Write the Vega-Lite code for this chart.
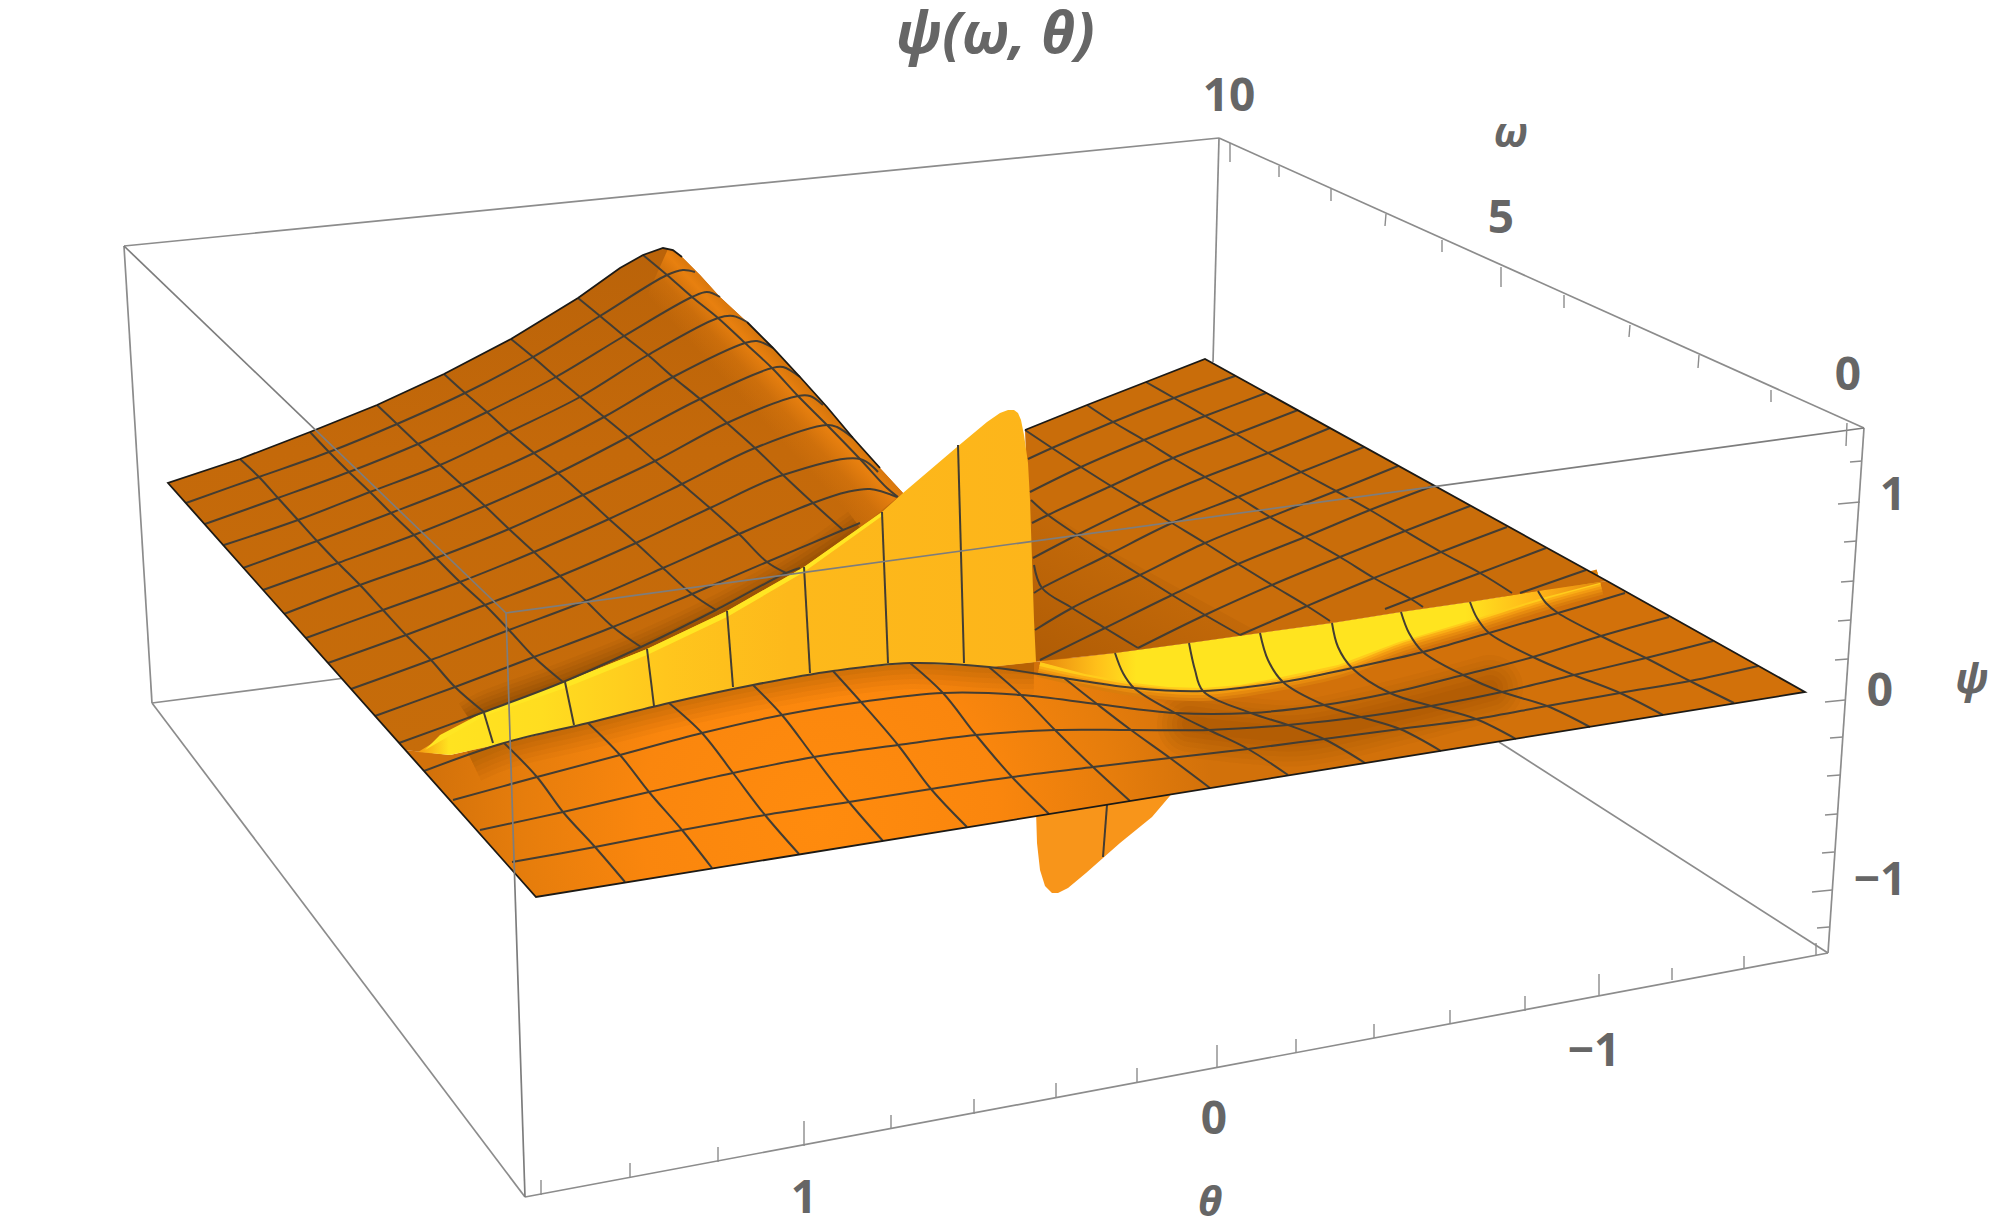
{"$schema":"https://vega.github.io/schema/vega-lite/v6.json","width":2016,"height":1231,"padding":0,"autosize":{"type":"fit","contains":"padding"},"background":"white","config":{"view":{"stroke":null}},
"datasets":{
"boxBack":[{"x":124,"y":246,"x2":1219,"y2":138},{"x":124,"y":246,"x2":152,"y2":703},{"x":1219,"y":138,"x2":1213,"y2":362},{"x":1219,"y":138,"x2":1864,"y2":428},{"x":152,"y":703,"x2":525,"y2":1197},{"x":525,"y":1197,"x2":1828,"y2":953},{"x":1864,"y":428,"x2":1828,"y2":953},{"x":1828,"y":953,"x2":1499,"y2":742},{"x":152,"y":703,"x2":345,"y2":678}],
"boxFront":[{"x":124,"y":246,"x2":506,"y2":613},{"x":1864,"y":428,"x2":506,"y2":613},{"x":506,"y":613,"x2":525,"y2":1197}],
"ticks":[{"x":541,"y":1180,"x2":541,"y2":1195},{"x":630,"y":1163,"x2":630,"y2":1178},{"x":718,"y":1147,"x2":718,"y2":1162},{"x":804,"y":1121,"x2":804,"y2":1146},{"x":891,"y":1115,"x2":891,"y2":1129},{"x":974,"y":1099,"x2":974,"y2":1114},{"x":1056,"y":1083,"x2":1056,"y2":1098},{"x":1137,"y":1068,"x2":1137,"y2":1083},{"x":1217,"y":1045,"x2":1217,"y2":1068},{"x":1296,"y":1039,"x2":1296,"y2":1053},{"x":1374,"y":1024,"x2":1374,"y2":1038},{"x":1450,"y":1010,"x2":1450,"y2":1024},{"x":1525,"y":996,"x2":1525,"y2":1011},{"x":1599,"y":974,"x2":1599,"y2":995},{"x":1672,"y":968,"x2":1672,"y2":980},{"x":1744,"y":956,"x2":1744,"y2":968},{"x":1816,"y":943,"x2":1816,"y2":955},
{"x":1230,"y":143,"x2":1230,"y2":162},{"x":1279,"y":166,"x2":1279,"y2":177},{"x":1331,"y":189,"x2":1331,"y2":201},{"x":1386,"y":214,"x2":1385,"y2":226},{"x":1442,"y":240,"x2":1442,"y2":252},{"x":1501,"y":267,"x2":1501,"y2":287},{"x":1564,"y":295,"x2":1564,"y2":308},{"x":1630,"y":325,"x2":1629,"y2":337},{"x":1699,"y":355,"x2":1698,"y2":368},{"x":1771,"y":390,"x2":1771,"y2":402},{"x":1847,"y":423,"x2":1846,"y2":446},
{"x":1862,"y":461,"x2":1850,"y2":462},{"x":1860,"y":502,"x2":1838,"y2":504},{"x":1857,"y":541,"x2":1844,"y2":542},{"x":1854,"y":581,"x2":1841,"y2":582},{"x":1851,"y":620,"x2":1838,"y2":621},{"x":1848,"y":659,"x2":1835,"y2":660},{"x":1845,"y":700,"x2":1825,"y2":702},{"x":1843,"y":737,"x2":1830,"y2":738},{"x":1840,"y":775,"x2":1827,"y2":776},{"x":1837,"y":814,"x2":1825,"y2":815},{"x":1834,"y":852,"x2":1822,"y2":853},{"x":1832,"y":890,"x2":1812,"y2":892},{"x":1829,"y":927,"x2":1817,"y2":928}],
"nums":[{"x":1229,"y":97,"t":"10"},{"x":1501,"y":219,"t":"5"},{"x":1848,"y":376,"t":"0"},{"x":1893,"y":496,"t":"1"},{"x":1880,"y":692,"t":"0"},{"x":1880,"y":881,"t":"−1"},{"x":804,"y":1199,"t":"1"},{"x":1214,"y":1120,"t":"0"},{"x":1594,"y":1052,"t":"−1"}],
"greek":[{"x":1511,"y":134,"t":"ω"},{"x":1972,"y":680,"t":"ψ"},{"x":1210,"y":1203,"t":"θ"}],
"title":[{"x":995,"y":36,"t":"ψ(ω, θ)"}],
"poly":[
{"g":"Bf","i":0,"x":1036,"y":810},{"g":"Bf","i":1,"x":1037,"y":843},{"g":"Bf","i":2,"x":1040,"y":870},{"g":"Bf","i":3,"x":1045,"y":886},{"g":"Bf","i":4,"x":1052,"y":893},{"g":"Bf","i":5,"x":1058,"y":893},{"g":"Bf","i":6,"x":1068,"y":888},{"g":"Bf","i":7,"x":1086,"y":873},{"g":"Bf","i":8,"x":1120,"y":843},{"g":"Bf","i":9,"x":1152,"y":817},{"g":"Bf","i":10,"x":1175,"y":790},
{"g":"F","i":0,"x":536,"y":897},{"g":"F","i":1,"x":1805,"y":692},{"g":"F","i":2,"x":1607,"y":581},{"g":"F","i":3,"x":1538,"y":591},{"g":"F","i":4,"x":1470,"y":602},{"g":"F","i":5,"x":1401,"y":612},{"g":"F","i":6,"x":1332,"y":623},{"g":"F","i":7,"x":1260,"y":633},{"g":"F","i":8,"x":1189,"y":643},{"g":"F","i":9,"x":1115,"y":653},{"g":"F","i":10,"x":1034,"y":662},{"g":"F","i":11,"x":989,"y":667},{"g":"F","i":12,"x":910,"y":663},{"g":"F","i":13,"x":833,"y":671},{"g":"F","i":14,"x":753,"y":685},{"g":"F","i":15,"x":669,"y":703},{"g":"F","i":16,"x":588,"y":723},{"g":"F","i":17,"x":504,"y":743},{"g":"F","i":18,"x":450,"y":755},{"g":"F","i":19,"x":405,"y":750},
{"g":"Fl","i":0,"x":536,"y":897},{"g":"Fl","i":1,"x":1210,"y":788},{"g":"Fl","i":2,"x":1215,"y":725},{"g":"Fl","i":3,"x":1134,"y":690},{"g":"Fl","i":4,"x":1064,"y":680},{"g":"Fl","i":5,"x":989,"y":667},{"g":"Fl","i":6,"x":910,"y":663},{"g":"Fl","i":7,"x":833,"y":671},{"g":"Fl","i":8,"x":753,"y":685},{"g":"Fl","i":9,"x":669,"y":703},{"g":"Fl","i":10,"x":588,"y":723},{"g":"Fl","i":11,"x":504,"y":743},{"g":"Fl","i":12,"x":424,"y":771},
{"g":"B4","i":0,"x":1040,"y":662},{"g":"B4","i":1,"x":1115,"y":653},{"g":"B4","i":2,"x":1189,"y":643},{"g":"B4","i":3,"x":1260,"y":633},{"g":"B4","i":4,"x":1332,"y":623},{"g":"B4","i":5,"x":1401,"y":612},{"g":"B4","i":6,"x":1470,"y":602},{"g":"B4","i":7,"x":1538,"y":591},{"g":"B4","i":8,"x":1607,"y":581},{"g":"B4","i":9,"x":1542,"y":598},{"g":"B4","i":10,"x":1472,"y":620},{"g":"B4","i":11,"x":1399,"y":642},{"g":"B4","i":12,"x":1338,"y":665},{"g":"B4","i":13,"x":1277,"y":678},{"g":"B4","i":14,"x":1240,"y":685},{"g":"B4","i":15,"x":1203,"y":688},{"g":"B4","i":16,"x":1168,"y":687},{"g":"B4","i":17,"x":1134,"y":683},{"g":"B4","i":18,"x":1085,"y":674},
{"g":"Rb","i":0,"x":1205,"y":359},{"g":"Rb","i":1,"x":1607,"y":581},{"g":"Rb","i":2,"x":1538,"y":591},{"g":"Rb","i":3,"x":1470,"y":602},{"g":"Rb","i":4,"x":1401,"y":612},{"g":"Rb","i":5,"x":1332,"y":623},{"g":"Rb","i":6,"x":1260,"y":633},{"g":"Rb","i":7,"x":1189,"y":643},{"g":"Rb","i":8,"x":1115,"y":653},{"g":"Rb","i":9,"x":1034,"y":662},{"g":"Rb","i":10,"x":1025,"y":430},{"g":"Rb","i":11,"x":1087,"y":405},{"g":"Rb","i":12,"x":1146,"y":382},
{"g":"Rd","i":0,"x":1030,"y":662},{"g":"Rd","i":1,"x":1030,"y":500},{"g":"Rd","i":2,"x":1100,"y":545},{"g":"Rd","i":3,"x":1260,"y":633},{"g":"Rd","i":4,"x":1189,"y":643},{"g":"Rd","i":5,"x":1115,"y":653},
{"g":"Lb","i":0,"x":168,"y":483},{"g":"Lb","i":1,"x":240,"y":459},{"g":"Lb","i":2,"x":310,"y":432},{"g":"Lb","i":3,"x":377,"y":405},{"g":"Lb","i":4,"x":444,"y":374},{"g":"Lb","i":5,"x":511,"y":339},{"g":"Lb","i":6,"x":578,"y":298},{"g":"Lb","i":7,"x":620,"y":268},{"g":"Lb","i":8,"x":643,"y":255},{"g":"Lb","i":9,"x":663,"y":248},{"g":"Lb","i":10,"x":673,"y":250},{"g":"Lb","i":11,"x":682,"y":257},{"g":"Lb","i":12,"x":700,"y":275},{"g":"Lb","i":13,"x":720,"y":297},{"g":"Lb","i":14,"x":747,"y":322},{"g":"Lb","i":15,"x":773,"y":348},{"g":"Lb","i":16,"x":800,"y":377},{"g":"Lb","i":17,"x":827,"y":407},{"g":"Lb","i":18,"x":853,"y":438},{"g":"Lb","i":19,"x":880,"y":468},{"g":"Lb","i":20,"x":903,"y":493},{"g":"Lb","i":21,"x":960,"y":600},{"g":"Lb","i":22,"x":804,"y":600},{"g":"Lb","i":23,"x":727,"y":640},{"g":"Lb","i":24,"x":647,"y":670},{"g":"Lb","i":25,"x":565,"y":700},{"g":"Lb","i":26,"x":484,"y":730},{"g":"Lb","i":27,"x":430,"y":753},{"g":"Lb","i":28,"x":405,"y":750},
{"g":"Lr","i":0,"x":668,"y":249},{"g":"Lr","i":1,"x":682,"y":257},{"g":"Lr","i":2,"x":700,"y":275},{"g":"Lr","i":3,"x":720,"y":297},{"g":"Lr","i":4,"x":747,"y":322},{"g":"Lr","i":5,"x":773,"y":348},{"g":"Lr","i":6,"x":800,"y":377},{"g":"Lr","i":7,"x":827,"y":407},{"g":"Lr","i":8,"x":853,"y":438},{"g":"Lr","i":9,"x":880,"y":468},{"g":"Lr","i":10,"x":903,"y":493},{"g":"Lr","i":11,"x":860,"y":528},{"g":"Lr","i":12,"x":790,"y":470},{"g":"Lr","i":13,"x":720,"y":400},{"g":"Lr","i":14,"x":660,"y":330},{"g":"Lr","i":15,"x":645,"y":300},
{"g":"W","i":0,"x":418,"y":752},{"g":"W","i":1,"x":484,"y":712},{"g":"W","i":2,"x":565,"y":682},{"g":"W","i":3,"x":647,"y":649},{"g":"W","i":4,"x":727,"y":611},{"g":"W","i":5,"x":804,"y":567},{"g":"W","i":6,"x":882,"y":512},{"g":"W","i":7,"x":903,"y":493},{"g":"W","i":8,"x":957,"y":447},{"g":"W","i":9,"x":987,"y":422},{"g":"W","i":10,"x":1000,"y":413},{"g":"W","i":11,"x":1008,"y":410},{"g":"W","i":12,"x":1014,"y":410},{"g":"W","i":13,"x":1018,"y":413},{"g":"W","i":14,"x":1021,"y":420},{"g":"W","i":15,"x":1024,"y":435},{"g":"W","i":16,"x":1028,"y":463},{"g":"W","i":17,"x":1030,"y":500},{"g":"W","i":18,"x":1032,"y":560},{"g":"W","i":19,"x":1034,"y":620},{"g":"W","i":20,"x":1036,"y":662},{"g":"W","i":21,"x":989,"y":667},{"g":"W","i":22,"x":910,"y":663},{"g":"W","i":23,"x":833,"y":671},{"g":"W","i":24,"x":753,"y":685},{"g":"W","i":25,"x":669,"y":703},{"g":"W","i":26,"x":588,"y":723},{"g":"W","i":27,"x":504,"y":743},{"g":"W","i":28,"x":450,"y":755},
{"g":"W4","i":0,"x":425,"y":750},{"g":"W4","i":1,"x":484,"y":716},{"g":"W4","i":2,"x":565,"y":688},{"g":"W4","i":3,"x":647,"y":655},{"g":"W4","i":4,"x":727,"y":617},{"g":"W4","i":5,"x":804,"y":572},{"g":"W4","i":6,"x":882,"y":516},{"g":"W4","i":7,"x":882,"y":512},{"g":"W4","i":8,"x":804,"y":567},{"g":"W4","i":9,"x":727,"y":611},{"g":"W4","i":10,"x":647,"y":649},{"g":"W4","i":11,"x":565,"y":682},{"g":"W4","i":12,"x":484,"y":712},{"g":"W4","i":13,"x":440,"y":735}
],
"trough":[{"i":0,"x":1190,"y":724},{"i":1,"x":1240,"y":730},{"i":2,"x":1300,"y":733},{"i":3,"x":1400,"y":712},{"i":4,"x":1490,"y":688}],
"foldPath":[{"i":0,"x":470,"y":757},{"i":1,"x":504,"y":743},{"i":2,"x":588,"y":723},{"i":3,"x":669,"y":703},{"i":4,"x":753,"y":685},{"i":5,"x":833,"y":671},{"i":6,"x":910,"y":663},{"i":7,"x":989,"y":667},{"i":8,"x":1034,"y":668}],
"bandPath":[{"i":0,"x":1040,"y":664},{"i":1,"x":1085,"y":674},{"i":2,"x":1134,"y":683},{"i":3,"x":1203,"y":688},{"i":4,"x":1277,"y":678},{"i":5,"x":1338,"y":665},{"i":6,"x":1399,"y":642},{"i":7,"x":1472,"y":620},{"i":8,"x":1542,"y":598},{"i":9,"x":1600,"y":582}],
"wallTop":[{"i":0,"x":470,"y":720},{"i":1,"x":484,"y":712},{"i":2,"x":565,"y":682},{"i":3,"x":647,"y":649},{"i":4,"x":727,"y":611},{"i":5,"x":804,"y":567},{"i":6,"x":860,"y":528}],
"mesh":[
{"g":"a15","i":0,"x":186,"y":503},{"g":"a15","i":1,"x":259,"y":477},{"g":"a15","i":2,"x":329,"y":452},{"g":"a15","i":3,"x":397,"y":424},{"g":"a15","i":4,"x":465,"y":393},{"g":"a15","i":5,"x":533,"y":357},{"g":"a15","i":6,"x":600,"y":316},{"g":"a15","i":7,"x":667,"y":275},{"g":"a15","i":8,"x":683,"y":270},{"g":"a15","i":9,"x":695,"y":272},
{"g":"a14","i":0,"x":205,"y":524},{"g":"a14","i":1,"x":278,"y":498},{"g":"a14","i":2,"x":349,"y":472},{"g":"a14","i":3,"x":418,"y":444},{"g":"a14","i":4,"x":487,"y":412},{"g":"a14","i":5,"x":556,"y":377},{"g":"a14","i":6,"x":624,"y":336},{"g":"a14","i":7,"x":692,"y":297},{"g":"a14","i":8,"x":707,"y":292},{"g":"a14","i":9,"x":720,"y":297},
{"g":"a13","i":0,"x":224,"y":545},{"g":"a13","i":1,"x":298,"y":520},{"g":"a13","i":2,"x":370,"y":492},{"g":"a13","i":3,"x":440,"y":465},{"g":"a13","i":4,"x":509,"y":432},{"g":"a13","i":5,"x":580,"y":397},{"g":"a13","i":6,"x":648,"y":355},{"g":"a13","i":7,"x":718,"y":318},{"g":"a13","i":8,"x":733,"y":316},{"g":"a13","i":9,"x":747,"y":322},
{"g":"a12","i":0,"x":243,"y":568},{"g":"a12","i":1,"x":317,"y":541},{"g":"a12","i":2,"x":391,"y":513},{"g":"a12","i":3,"x":462,"y":485},{"g":"a12","i":4,"x":534,"y":453},{"g":"a12","i":5,"x":604,"y":417},{"g":"a12","i":6,"x":673,"y":377},{"g":"a12","i":7,"x":745,"y":343},{"g":"a12","i":8,"x":757,"y":341},{"g":"a12","i":9,"x":773,"y":348},
{"g":"a11","i":0,"x":263,"y":590},{"g":"a11","i":1,"x":338,"y":563},{"g":"a11","i":2,"x":414,"y":535},{"g":"a11","i":3,"x":485,"y":506},{"g":"a11","i":4,"x":558,"y":473},{"g":"a11","i":5,"x":628,"y":437},{"g":"a11","i":6,"x":700,"y":399},{"g":"a11","i":7,"x":772,"y":368},{"g":"a11","i":8,"x":783,"y":367},{"g":"a11","i":9,"x":800,"y":377},
{"g":"a10","i":0,"x":284,"y":614},{"g":"a10","i":1,"x":360,"y":585},{"g":"a10","i":2,"x":436,"y":558},{"g":"a10","i":3,"x":509,"y":529},{"g":"a10","i":4,"x":583,"y":495},{"g":"a10","i":5,"x":655,"y":461},{"g":"a10","i":6,"x":727,"y":423},{"g":"a10","i":7,"x":798,"y":396},{"g":"a10","i":8,"x":810,"y":396},{"g":"a10","i":9,"x":823,"y":405},
{"g":"a9","i":0,"x":306,"y":638},{"g":"a9","i":1,"x":383,"y":610},{"g":"a9","i":2,"x":460,"y":582},{"g":"a9","i":3,"x":534,"y":552},{"g":"a9","i":4,"x":609,"y":519},{"g":"a9","i":5,"x":682,"y":484},{"g":"a9","i":6,"x":755,"y":448},{"g":"a9","i":7,"x":827,"y":425},{"g":"a9","i":8,"x":837,"y":427},{"g":"a9","i":9,"x":853,"y":438},
{"g":"a8","i":0,"x":328,"y":663},{"g":"a8","i":1,"x":406,"y":635},{"g":"a8","i":2,"x":485,"y":605},{"g":"a8","i":3,"x":560,"y":576},{"g":"a8","i":4,"x":636,"y":543},{"g":"a8","i":5,"x":710,"y":508},{"g":"a8","i":6,"x":783,"y":475},{"g":"a8","i":7,"x":860,"y":459},{"g":"a8","i":8,"x":878,"y":472},
{"g":"a7","i":0,"x":351,"y":689},{"g":"a7","i":1,"x":431,"y":660},{"g":"a7","i":2,"x":509,"y":630},{"g":"a7","i":3,"x":586,"y":601},{"g":"a7","i":4,"x":663,"y":568},{"g":"a7","i":5,"x":739,"y":534},{"g":"a7","i":6,"x":813,"y":503},{"g":"a7","i":7,"x":847,"y":492},{"g":"a7","i":8,"x":870,"y":489},{"g":"a7","i":9,"x":897,"y":497},
{"g":"a6","i":0,"x":375,"y":716},{"g":"a6","i":1,"x":455,"y":687},{"g":"a6","i":2,"x":534,"y":657},{"g":"a6","i":3,"x":613,"y":627},{"g":"a6","i":4,"x":692,"y":594},{"g":"a6","i":5,"x":767,"y":562},{"g":"a6","i":6,"x":843,"y":530},{"g":"a6","i":7,"x":860,"y":523},
{"g":"a5","i":0,"x":399,"y":743},{"g":"a5","i":1,"x":484,"y":712},{"g":"a5","i":2,"x":563,"y":682},{"g":"a5","i":3,"x":641,"y":647},{"g":"a5","i":4,"x":716,"y":610},{"g":"a5","i":5,"x":786,"y":573},{"g":"a5","i":6,"x":800,"y":568},
{"g":"k1","i":0,"x":240,"y":459},{"g":"k1","i":1,"x":259,"y":477},{"g":"k1","i":2,"x":278,"y":498},{"g":"k1","i":3,"x":298,"y":520},{"g":"k1","i":4,"x":317,"y":541},{"g":"k1","i":5,"x":338,"y":563},{"g":"k1","i":6,"x":360,"y":585},{"g":"k1","i":7,"x":383,"y":610},{"g":"k1","i":8,"x":406,"y":635},{"g":"k1","i":9,"x":431,"y":660},{"g":"k1","i":10,"x":455,"y":687},{"g":"k1","i":11,"x":484,"y":712},
{"g":"k2","i":0,"x":310,"y":432},{"g":"k2","i":1,"x":329,"y":452},{"g":"k2","i":2,"x":349,"y":472},{"g":"k2","i":3,"x":370,"y":492},{"g":"k2","i":4,"x":391,"y":513},{"g":"k2","i":5,"x":414,"y":535},{"g":"k2","i":6,"x":436,"y":558},{"g":"k2","i":7,"x":460,"y":582},{"g":"k2","i":8,"x":485,"y":605},{"g":"k2","i":9,"x":509,"y":630},{"g":"k2","i":10,"x":534,"y":657},{"g":"k2","i":11,"x":563,"y":682},
{"g":"k3","i":0,"x":377,"y":405},{"g":"k3","i":1,"x":397,"y":424},{"g":"k3","i":2,"x":418,"y":444},{"g":"k3","i":3,"x":440,"y":465},{"g":"k3","i":4,"x":462,"y":485},{"g":"k3","i":5,"x":485,"y":506},{"g":"k3","i":6,"x":509,"y":529},{"g":"k3","i":7,"x":534,"y":552},{"g":"k3","i":8,"x":560,"y":576},{"g":"k3","i":9,"x":586,"y":601},{"g":"k3","i":10,"x":613,"y":627},{"g":"k3","i":11,"x":641,"y":647},
{"g":"k4","i":0,"x":444,"y":374},{"g":"k4","i":1,"x":465,"y":393},{"g":"k4","i":2,"x":487,"y":412},{"g":"k4","i":3,"x":509,"y":432},{"g":"k4","i":4,"x":534,"y":453},{"g":"k4","i":5,"x":558,"y":473},{"g":"k4","i":6,"x":583,"y":495},{"g":"k4","i":7,"x":609,"y":519},{"g":"k4","i":8,"x":636,"y":543},{"g":"k4","i":9,"x":663,"y":568},{"g":"k4","i":10,"x":692,"y":594},{"g":"k4","i":11,"x":716,"y":610},
{"g":"k5","i":0,"x":511,"y":339},{"g":"k5","i":1,"x":533,"y":357},{"g":"k5","i":2,"x":556,"y":377},{"g":"k5","i":3,"x":580,"y":397},{"g":"k5","i":4,"x":604,"y":417},{"g":"k5","i":5,"x":628,"y":437},{"g":"k5","i":6,"x":655,"y":461},{"g":"k5","i":7,"x":682,"y":484},{"g":"k5","i":8,"x":710,"y":508},{"g":"k5","i":9,"x":739,"y":534},{"g":"k5","i":10,"x":767,"y":562},{"g":"k5","i":11,"x":786,"y":573},
{"g":"k6","i":0,"x":578,"y":298},{"g":"k6","i":1,"x":600,"y":316},{"g":"k6","i":2,"x":624,"y":336},{"g":"k6","i":3,"x":648,"y":355},{"g":"k6","i":4,"x":673,"y":377},{"g":"k6","i":5,"x":700,"y":399},{"g":"k6","i":6,"x":727,"y":423},{"g":"k6","i":7,"x":755,"y":448},{"g":"k6","i":8,"x":783,"y":475},{"g":"k6","i":9,"x":813,"y":503},{"g":"k6","i":10,"x":843,"y":530},
{"g":"k7","i":0,"x":643,"y":255},{"g":"k7","i":1,"x":667,"y":275},{"g":"k7","i":2,"x":692,"y":297},{"g":"k7","i":3,"x":718,"y":318},{"g":"k7","i":4,"x":745,"y":343},{"g":"k7","i":5,"x":772,"y":368},{"g":"k7","i":6,"x":798,"y":396},{"g":"k7","i":7,"x":827,"y":425},{"g":"k7","i":8,"x":860,"y":459},{"g":"k7","i":9,"x":887,"y":488},{"g":"k7","i":10,"x":898,"y":497},
{"g":"w1","i":0,"x":484,"y":713},{"g":"w1","i":1,"x":493,"y":743},{"g":"w2","i":0,"x":565,"y":682},{"g":"w2","i":1,"x":574,"y":725},{"g":"w3","i":0,"x":647,"y":649},{"g":"w3","i":1,"x":654,"y":706},{"g":"w4","i":0,"x":727,"y":611},{"g":"w4","i":1,"x":733,"y":687},{"g":"w5","i":0,"x":804,"y":567},{"g":"w5","i":1,"x":810,"y":673},{"g":"w6","i":0,"x":882,"y":512},{"g":"w6","i":1,"x":888,"y":663},{"g":"w7","i":0,"x":958,"y":445},{"g":"w7","i":1,"x":964,"y":663},{"g":"w8","i":0,"x":1107,"y":805},{"g":"w8","i":1,"x":1103,"y":857},
{"g":"v1","i":0,"x":512,"y":862},{"g":"v1","i":1,"x":595,"y":847},{"g":"v1","i":2,"x":682,"y":830},{"g":"v1","i":3,"x":765,"y":815},{"g":"v1","i":4,"x":849,"y":802},{"g":"v1","i":5,"x":931,"y":789},{"g":"v1","i":6,"x":1012,"y":777},{"g":"v1","i":7,"x":1093,"y":767},{"g":"v1","i":8,"x":1170,"y":758},{"g":"v1","i":9,"x":1248,"y":749},{"g":"v1","i":10,"x":1324,"y":739},{"g":"v1","i":11,"x":1400,"y":729},{"g":"v1","i":12,"x":1476,"y":719},{"g":"v1","i":13,"x":1547,"y":706},{"g":"v1","i":14,"x":1620,"y":693},{"g":"v1","i":15,"x":1690,"y":681},{"g":"v1","i":16,"x":1758,"y":666},
{"g":"v2","i":0,"x":480,"y":830},{"g":"v2","i":1,"x":563,"y":812},{"g":"v2","i":2,"x":649,"y":792},{"g":"v2","i":3,"x":733,"y":773},{"g":"v2","i":4,"x":814,"y":757},{"g":"v2","i":5,"x":898,"y":745},{"g":"v2","i":6,"x":976,"y":735},{"g":"v2","i":7,"x":1055,"y":730},{"g":"v2","i":8,"x":1131,"y":730},{"g":"v2","i":9,"x":1209,"y":730},{"g":"v2","i":10,"x":1288,"y":725},{"g":"v2","i":11,"x":1361,"y":717},{"g":"v2","i":12,"x":1431,"y":706},{"g":"v2","i":13,"x":1502,"y":692},{"g":"v2","i":14,"x":1574,"y":675},{"g":"v2","i":15,"x":1646,"y":658},{"g":"v2","i":16,"x":1713,"y":641},
{"g":"v3","i":0,"x":453,"y":800},{"g":"v3","i":1,"x":537,"y":777},{"g":"v3","i":2,"x":620,"y":755},{"g":"v3","i":3,"x":702,"y":733},{"g":"v3","i":4,"x":782,"y":715},{"g":"v3","i":5,"x":861,"y":702},{"g":"v3","i":6,"x":943,"y":693},{"g":"v3","i":7,"x":1021,"y":695},{"g":"v3","i":8,"x":1097,"y":704},{"g":"v3","i":9,"x":1175,"y":713},{"g":"v3","i":10,"x":1251,"y":713},{"g":"v3","i":11,"x":1324,"y":705},{"g":"v3","i":12,"x":1390,"y":693},{"g":"v3","i":13,"x":1463,"y":675},{"g":"v3","i":14,"x":1533,"y":657},{"g":"v3","i":15,"x":1601,"y":636},{"g":"v3","i":16,"x":1669,"y":617},
{"g":"v4","i":0,"x":424,"y":771},{"g":"v4","i":1,"x":504,"y":743},{"g":"v4","i":2,"x":588,"y":723},{"g":"v4","i":3,"x":669,"y":703},{"g":"v4","i":4,"x":753,"y":685},{"g":"v4","i":5,"x":833,"y":671},{"g":"v4","i":6,"x":910,"y":663},{"g":"v4","i":7,"x":989,"y":667},{"g":"v4","i":8,"x":1064,"y":678},{"g":"v4","i":9,"x":1134,"y":688},{"g":"v4","i":10,"x":1203,"y":691},{"g":"v4","i":11,"x":1283,"y":682},{"g":"v4","i":12,"x":1352,"y":668},{"g":"v4","i":13,"x":1423,"y":652},{"g":"v4","i":14,"x":1489,"y":633},{"g":"v4","i":15,"x":1558,"y":613},{"g":"v4","i":16,"x":1625,"y":593},
{"g":"f1","i":0,"x":625,"y":882},{"g":"f1","i":1,"x":595,"y":847},{"g":"f1","i":2,"x":563,"y":812},{"g":"f1","i":3,"x":537,"y":777},{"g":"f1","i":4,"x":504,"y":743},
{"g":"f2","i":0,"x":712,"y":868},{"g":"f2","i":1,"x":682,"y":830},{"g":"f2","i":2,"x":649,"y":792},{"g":"f2","i":3,"x":620,"y":755},{"g":"f2","i":4,"x":588,"y":723},
{"g":"f3","i":0,"x":799,"y":854},{"g":"f3","i":1,"x":765,"y":815},{"g":"f3","i":2,"x":733,"y":773},{"g":"f3","i":3,"x":702,"y":733},{"g":"f3","i":4,"x":669,"y":703},
{"g":"f4","i":0,"x":883,"y":841},{"g":"f4","i":1,"x":849,"y":802},{"g":"f4","i":2,"x":814,"y":757},{"g":"f4","i":3,"x":782,"y":715},{"g":"f4","i":4,"x":753,"y":685},
{"g":"f5","i":0,"x":967,"y":827},{"g":"f5","i":1,"x":931,"y":789},{"g":"f5","i":2,"x":898,"y":745},{"g":"f5","i":3,"x":861,"y":702},{"g":"f5","i":4,"x":833,"y":671},
{"g":"f6","i":0,"x":1049,"y":814},{"g":"f6","i":1,"x":1012,"y":777},{"g":"f6","i":2,"x":976,"y":735},{"g":"f6","i":3,"x":943,"y":693},{"g":"f6","i":4,"x":910,"y":663},
{"g":"f7","i":0,"x":1130,"y":801},{"g":"f7","i":1,"x":1093,"y":767},{"g":"f7","i":2,"x":1055,"y":730},{"g":"f7","i":3,"x":1021,"y":695},{"g":"f7","i":4,"x":989,"y":667},
{"g":"f8","i":0,"x":1210,"y":788},{"g":"f8","i":1,"x":1170,"y":758},{"g":"f8","i":2,"x":1131,"y":730},{"g":"f8","i":3,"x":1097,"y":704},{"g":"f8","i":4,"x":1064,"y":678},
{"g":"f9","i":0,"x":1288,"y":775},{"g":"f9","i":1,"x":1248,"y":749},{"g":"f9","i":2,"x":1209,"y":730},{"g":"f9","i":3,"x":1175,"y":713},{"g":"f9","i":4,"x":1134,"y":688},{"g":"f9","i":5,"x":1123,"y":673},{"g":"f9","i":6,"x":1115,"y":653},
{"g":"f10","i":0,"x":1365,"y":763},{"g":"f10","i":1,"x":1324,"y":739},{"g":"f10","i":2,"x":1288,"y":725},{"g":"f10","i":3,"x":1251,"y":713},{"g":"f10","i":4,"x":1203,"y":691},{"g":"f10","i":5,"x":1195,"y":670},{"g":"f10","i":6,"x":1189,"y":643},
{"g":"f11","i":0,"x":1441,"y":751},{"g":"f11","i":1,"x":1400,"y":729},{"g":"f11","i":2,"x":1361,"y":717},{"g":"f11","i":3,"x":1324,"y":705},{"g":"f11","i":4,"x":1283,"y":682},{"g":"f11","i":5,"x":1268,"y":660},{"g":"f11","i":6,"x":1260,"y":633},
{"g":"f12","i":0,"x":1516,"y":739},{"g":"f12","i":1,"x":1476,"y":719},{"g":"f12","i":2,"x":1431,"y":706},{"g":"f12","i":3,"x":1390,"y":693},{"g":"f12","i":4,"x":1352,"y":668},{"g":"f12","i":5,"x":1338,"y":647},{"g":"f12","i":6,"x":1332,"y":623},
{"g":"f13","i":0,"x":1590,"y":727},{"g":"f13","i":1,"x":1547,"y":706},{"g":"f13","i":2,"x":1502,"y":692},{"g":"f13","i":3,"x":1463,"y":675},{"g":"f13","i":4,"x":1423,"y":652},{"g":"f13","i":5,"x":1409,"y":633},{"g":"f13","i":6,"x":1401,"y":612},
{"g":"f14","i":0,"x":1663,"y":715},{"g":"f14","i":1,"x":1620,"y":693},{"g":"f14","i":2,"x":1574,"y":675},{"g":"f14","i":3,"x":1533,"y":657},{"g":"f14","i":4,"x":1489,"y":633},{"g":"f14","i":5,"x":1477,"y":618},{"g":"f14","i":6,"x":1470,"y":602},
{"g":"f15","i":0,"x":1734,"y":703},{"g":"f15","i":1,"x":1690,"y":681},{"g":"f15","i":2,"x":1646,"y":658},{"g":"f15","i":3,"x":1601,"y":636},{"g":"f15","i":4,"x":1558,"y":613},{"g":"f15","i":5,"x":1546,"y":603},{"g":"f15","i":6,"x":1538,"y":591},
{"g":"r15","i":0,"x":1146,"y":382},{"g":"r15","i":1,"x":1174,"y":398},{"g":"r15","i":2,"x":1205,"y":416},{"g":"r15","i":3,"x":1236,"y":434},{"g":"r15","i":4,"x":1268,"y":453},{"g":"r15","i":5,"x":1301,"y":472},{"g":"r15","i":6,"x":1336,"y":491},{"g":"r15","i":7,"x":1370,"y":510},{"g":"r15","i":8,"x":1405,"y":531},{"g":"r15","i":9,"x":1441,"y":552},{"g":"r15","i":10,"x":1480,"y":573},{"g":"r15","i":11,"x":1512,"y":593},
{"g":"r14","i":0,"x":1087,"y":405},{"g":"r14","i":1,"x":1113,"y":422},{"g":"r14","i":2,"x":1144,"y":440},{"g":"r14","i":3,"x":1173,"y":458},{"g":"r14","i":4,"x":1205,"y":477},{"g":"r14","i":5,"x":1238,"y":497},{"g":"r14","i":6,"x":1270,"y":517},{"g":"r14","i":7,"x":1305,"y":537},{"g":"r14","i":8,"x":1340,"y":557},{"g":"r14","i":9,"x":1374,"y":578},{"g":"r14","i":10,"x":1411,"y":599},{"g":"r14","i":11,"x":1423,"y":607},
{"g":"r13","i":0,"x":1025,"y":430},{"g":"r13","i":1,"x":1052,"y":448},{"g":"r13","i":2,"x":1081,"y":467},{"g":"r13","i":3,"x":1111,"y":486},{"g":"r13","i":4,"x":1141,"y":504},{"g":"r13","i":5,"x":1172,"y":523},{"g":"r13","i":6,"x":1205,"y":543},{"g":"r13","i":7,"x":1238,"y":564},{"g":"r13","i":8,"x":1272,"y":585},{"g":"r13","i":9,"x":1307,"y":606},{"g":"r13","i":10,"x":1330,"y":621},
{"g":"r12","i":0,"x":1031,"y":500},{"g":"r12","i":1,"x":1048,"y":515},{"g":"r12","i":2,"x":1077,"y":535},{"g":"r12","i":3,"x":1108,"y":555},{"g":"r12","i":4,"x":1140,"y":575},{"g":"r12","i":5,"x":1172,"y":595},{"g":"r12","i":6,"x":1205,"y":615},{"g":"r12","i":7,"x":1240,"y":635},
{"g":"r11","i":0,"x":1034,"y":565},{"g":"r11","i":1,"x":1042,"y":588},{"g":"r11","i":2,"x":1072,"y":608},{"g":"r11","i":3,"x":1105,"y":628},{"g":"r11","i":4,"x":1138,"y":648},
{"g":"q15","i":0,"x":1235,"y":376},{"g":"q15","i":1,"x":1174,"y":398},{"g":"q15","i":2,"x":1113,"y":422},{"g":"q15","i":3,"x":1052,"y":448},{"g":"q15","i":4,"x":1028,"y":459},
{"g":"q14","i":0,"x":1266,"y":393},{"g":"q14","i":1,"x":1205,"y":416},{"g":"q14","i":2,"x":1144,"y":440},{"g":"q14","i":3,"x":1081,"y":467},{"g":"q14","i":4,"x":1030,"y":492},
{"g":"q13","i":0,"x":1298,"y":410},{"g":"q13","i":1,"x":1236,"y":434},{"g":"q13","i":2,"x":1173,"y":458},{"g":"q13","i":3,"x":1111,"y":486},{"g":"q13","i":4,"x":1048,"y":515},{"g":"q13","i":5,"x":1032,"y":523},
{"g":"q12","i":0,"x":1330,"y":428},{"g":"q12","i":1,"x":1268,"y":453},{"g":"q12","i":2,"x":1205,"y":477},{"g":"q12","i":3,"x":1141,"y":504},{"g":"q12","i":4,"x":1077,"y":535},{"g":"q12","i":5,"x":1033,"y":558},
{"g":"q11","i":0,"x":1364,"y":447},{"g":"q11","i":1,"x":1301,"y":472},{"g":"q11","i":2,"x":1238,"y":497},{"g":"q11","i":3,"x":1172,"y":523},{"g":"q11","i":4,"x":1108,"y":555},{"g":"q11","i":5,"x":1042,"y":588},{"g":"q11","i":6,"x":1034,"y":593},
{"g":"q10","i":0,"x":1398,"y":466},{"g":"q10","i":1,"x":1336,"y":491},{"g":"q10","i":2,"x":1270,"y":517},{"g":"q10","i":3,"x":1205,"y":543},{"g":"q10","i":4,"x":1140,"y":575},{"g":"q10","i":5,"x":1072,"y":608},{"g":"q10","i":6,"x":1035,"y":630},
{"g":"q9","i":0,"x":1433,"y":486},{"g":"q9","i":1,"x":1370,"y":510},{"g":"q9","i":2,"x":1305,"y":537},{"g":"q9","i":3,"x":1238,"y":564},{"g":"q9","i":4,"x":1172,"y":595},{"g":"q9","i":5,"x":1105,"y":628},{"g":"q9","i":6,"x":1040,"y":660},
{"g":"q8","i":0,"x":1470,"y":506},{"g":"q8","i":1,"x":1405,"y":531},{"g":"q8","i":2,"x":1340,"y":557},{"g":"q8","i":3,"x":1272,"y":585},{"g":"q8","i":4,"x":1205,"y":615},{"g":"q8","i":5,"x":1138,"y":648},
{"g":"q7","i":0,"x":1507,"y":527},{"g":"q7","i":1,"x":1441,"y":552},{"g":"q7","i":2,"x":1374,"y":578},{"g":"q7","i":3,"x":1307,"y":606},{"g":"q7","i":4,"x":1240,"y":635},
{"g":"q6","i":0,"x":1546,"y":548},{"g":"q6","i":1,"x":1480,"y":573},{"g":"q6","i":2,"x":1411,"y":599},{"g":"q6","i":3,"x":1385,"y":609},
{"g":"q5","i":0,"x":1586,"y":570},{"g":"q5","i":1,"x":1520,"y":593}
],
"edge":[
{"g":"e1","i":0,"x":1025,"y":430},{"g":"e1","i":1,"x":1087,"y":405},{"g":"e1","i":2,"x":1146,"y":382},{"g":"e1","i":3,"x":1205,"y":359},{"g":"e1","i":4,"x":1607,"y":581},{"g":"e1","i":5,"x":1805,"y":692},{"g":"e1","i":6,"x":536,"y":897},{"g":"e1","i":7,"x":168,"y":483},{"g":"e1","i":8,"x":240,"y":459},{"g":"e1","i":9,"x":310,"y":432},{"g":"e1","i":10,"x":377,"y":405},{"g":"e1","i":11,"x":444,"y":374},{"g":"e1","i":12,"x":511,"y":339},{"g":"e1","i":13,"x":578,"y":298},{"g":"e1","i":14,"x":620,"y":268},{"g":"e1","i":15,"x":643,"y":255},{"g":"e1","i":16,"x":663,"y":248},{"g":"e1","i":17,"x":673,"y":250},{"g":"e1","i":18,"x":682,"y":257},
{"g":"e2","i":0,"x":747,"y":322},{"g":"e2","i":1,"x":773,"y":348},{"g":"e2","i":2,"x":800,"y":377},{"g":"e2","i":3,"x":827,"y":407},{"g":"e2","i":4,"x":853,"y":438},{"g":"e2","i":5,"x":880,"y":468}
]
},
"encoding":{"x":{"field":"x","type":"quantitative","scale":{"domain":[0,2016],"nice":false,"zero":false},"axis":null},"y":{"field":"y","type":"quantitative","scale":{"domain":[1231,0],"nice":false,"zero":false},"axis":null},"order":{"field":"i","type":"quantitative"}},
"layer":[
{"data":{"name":"boxBack"},"mark":{"type":"rule","color":"#8c8c8c","strokeWidth":1.7},"encoding":{"order":null,"x2":{"field":"x2"},"y2":{"field":"y2"}}},
{"data":{"name":"poly"},"transform":[{"filter":"datum.g==='Bf'"}],"mark":{"type":"line","stroke":null,"fill":"#F8951A"}},
{"data":{"name":"poly"},"transform":[{"filter":"datum.g==='F'"}],"mark":{"type":"line","stroke":null,"fill":"#D2710A"}},
{"data":{"name":"poly"},"transform":[{"filter":"datum.g==='Fl'"}],"mark":{"type":"line","stroke":null,"fill":{"gradient":"radial","x1":0.5,"y1":0.55,"r1":0,"x2":0.5,"y2":0.55,"r2":0.5,"stops":[{"offset":0,"color":"#FF8B0D"},{"offset":0.45,"color":"#FA860D"},{"offset":0.75,"color":"#E67D0C"},{"offset":1,"color":"#D2710A"}]}}},
{"data":{"name":"trough"},"mark":{"type":"line","color":"#7a3d00","strokeWidth":66,"opacity":0.05,"strokeCap":"round","interpolate":"catmull-rom"}},
{"data":{"name":"trough"},"mark":{"type":"line","color":"#7a3d00","strokeWidth":56,"opacity":0.06,"strokeCap":"round","interpolate":"catmull-rom"}},
{"data":{"name":"trough"},"mark":{"type":"line","color":"#7a3d00","strokeWidth":46,"opacity":0.06,"strokeCap":"round","interpolate":"catmull-rom"}},
{"data":{"name":"trough"},"mark":{"type":"line","color":"#7a3d00","strokeWidth":36,"opacity":0.07,"strokeCap":"round","interpolate":"catmull-rom"}},
{"data":{"name":"trough"},"mark":{"type":"line","color":"#7a3d00","strokeWidth":26,"opacity":0.07,"strokeCap":"round","interpolate":"catmull-rom"}},
{"data":{"name":"trough"},"mark":{"type":"line","color":"#7a3d00","strokeWidth":16,"opacity":0.08,"strokeCap":"round","interpolate":"catmull-rom"}},
{"data":{"name":"foldPath"},"mark":{"type":"line","color":"#8a4a00","strokeWidth":52,"opacity":0.06,"interpolate":"catmull-rom"}},
{"data":{"name":"foldPath"},"mark":{"type":"line","color":"#8a4a00","strokeWidth":42,"opacity":0.07,"interpolate":"catmull-rom"}},
{"data":{"name":"foldPath"},"mark":{"type":"line","color":"#8a4a00","strokeWidth":32,"opacity":0.08,"interpolate":"catmull-rom"}},
{"data":{"name":"foldPath"},"mark":{"type":"line","color":"#8a4a00","strokeWidth":22,"opacity":0.09,"interpolate":"catmull-rom"}},
{"data":{"name":"foldPath"},"mark":{"type":"line","color":"#8a4a00","strokeWidth":12,"opacity":0.1,"interpolate":"catmull-rom"}},
{"data":{"name":"bandPath"},"mark":{"type":"line","color":"#DA7D0C","strokeWidth":26,"interpolate":"catmull-rom"}},
{"data":{"name":"bandPath"},"mark":{"type":"line","color":"#E68A0E","strokeWidth":20,"interpolate":"catmull-rom"}},
{"data":{"name":"bandPath"},"mark":{"type":"line","color":"#F29A11","strokeWidth":14,"interpolate":"catmull-rom"}},
{"data":{"name":"bandPath"},"mark":{"type":"line","color":"#FAAE15","strokeWidth":9,"interpolate":"catmull-rom"}},
{"data":{"name":"bandPath"},"mark":{"type":"line","color":"#FFCC1B","strokeWidth":4,"interpolate":"catmull-rom"}},
{"data":{"name":"poly"},"transform":[{"filter":"datum.g==='B4'"}],"mark":{"type":"line","stroke":null,"fill":{"gradient":"linear","x1":0,"y1":0.5,"x2":1,"y2":0.5,"stops":[{"offset":0,"color":"#E8880E"},{"offset":0.1,"color":"#FFC01A"},{"offset":0.17,"color":"#FFE41F"},{"offset":0.75,"color":"#FFE41F"},{"offset":0.88,"color":"#FFB418"},{"offset":1,"color":"#E0820E"}]}}},
{"data":{"name":"poly"},"transform":[{"filter":"datum.g==='Rb'"}],"mark":{"type":"line","stroke":null,"fill":"#C96D0A"}},
{"data":{"name":"poly"},"transform":[{"filter":"datum.g==='Rd'"}],"mark":{"type":"line","stroke":null,"fill":{"gradient":"linear","x1":0,"y1":1,"x2":0.6,"y2":0.2,"stops":[{"offset":0,"color":"rgba(150,75,0,0.5)"},{"offset":1,"color":"rgba(150,75,0,0)"}]}}},
{"data":{"name":"poly"},"transform":[{"filter":"datum.g==='Lb'"}],"mark":{"type":"line","stroke":null,"fill":{"gradient":"linear","x1":0.5,"y1":0,"x2":0.5,"y2":1,"stops":[{"offset":0,"color":"#BA6309"},{"offset":0.4,"color":"#C4690A"},{"offset":1,"color":"#C66C0A"}]}}},
{"data":{"name":"poly"},"transform":[{"filter":"datum.g==='Lr'"}],"mark":{"type":"line","stroke":null,"fill":{"gradient":"linear","x1":0.42,"y1":0.58,"x2":0.565,"y2":0.435,"stops":[{"offset":0,"color":"rgba(232,128,15,0)"},{"offset":0.4,"color":"rgba(232,128,15,0.3)"},{"offset":0.78,"color":"rgba(232,128,15,1)"},{"offset":1,"color":"rgba(215,118,12,1)"}]}}},
{"data":{"name":"wallTop"},"mark":{"type":"line","color":"#6f3a00","strokeWidth":40,"opacity":0.08,"interpolate":"catmull-rom"}},
{"data":{"name":"wallTop"},"mark":{"type":"line","color":"#6f3a00","strokeWidth":32,"opacity":0.09,"interpolate":"catmull-rom"}},
{"data":{"name":"wallTop"},"mark":{"type":"line","color":"#6f3a00","strokeWidth":24,"opacity":0.1,"interpolate":"catmull-rom"}},
{"data":{"name":"wallTop"},"mark":{"type":"line","color":"#6f3a00","strokeWidth":16,"opacity":0.12,"interpolate":"catmull-rom"}},
{"data":{"name":"wallTop"},"mark":{"type":"line","color":"#6f3a00","strokeWidth":8,"opacity":0.14,"interpolate":"catmull-rom"}},
{"data":{"name":"poly"},"transform":[{"filter":"datum.g==='W'"}],"mark":{"type":"line","stroke":null,"fill":{"gradient":"linear","x1":0,"y1":0.5,"x2":1,"y2":0.5,"stops":[{"offset":0,"color":"#F59A10"},{"offset":0.05,"color":"#FFE320"},{"offset":0.2,"color":"#FFDD20"},{"offset":0.4,"color":"#FFC61D"},{"offset":0.6,"color":"#FDB91B"},{"offset":1,"color":"#FDB51A"}]}}},
{"data":{"name":"poly"},"transform":[{"filter":"datum.g==='W4'"}],"mark":{"type":"line","stroke":null,"fill":"#FFE623"}},
{"data":{"name":"mesh"},"mark":{"type":"line","color":"#433d33","strokeWidth":2,"interpolate":"catmull-rom"},"encoding":{"detail":{"field":"g","type":"nominal"}}},
{"data":{"name":"edge"},"mark":{"type":"line","color":"#1c1a16","strokeWidth":1.8},"encoding":{"detail":{"field":"g","type":"nominal"}}},
{"data":{"name":"boxFront"},"mark":{"type":"rule","color":"#7d7d7d","strokeWidth":1.7},"encoding":{"order":null,"x2":{"field":"x2"},"y2":{"field":"y2"}}},
{"data":{"name":"ticks"},"mark":{"type":"rule","color":"#8c8c8c","strokeWidth":1.4},"encoding":{"order":null,"x2":{"field":"x2"},"y2":{"field":"y2"}}},
{"data":{"name":"nums"},"mark":{"type":"text","font":"Open Sans","fontWeight":700,"fontSize":46,"color":"#666666","align":"center","baseline":"middle"},"encoding":{"order":null,"text":{"field":"t","type":"nominal"}}},
{"data":{"name":"greek"},"mark":{"type":"text","font":"Open Sans","fontWeight":700,"fontStyle":"italic","fontSize":42,"color":"#666666","align":"center","baseline":"middle"},"encoding":{"order":null,"text":{"field":"t","type":"nominal"}}},
{"data":{"name":"title"},"mark":{"type":"text","font":"Open Sans","fontWeight":700,"fontStyle":"italic","fontSize":58,"color":"#666666","align":"center","baseline":"middle"},"encoding":{"order":null,"text":{"field":"t","type":"nominal"}}}
]}
